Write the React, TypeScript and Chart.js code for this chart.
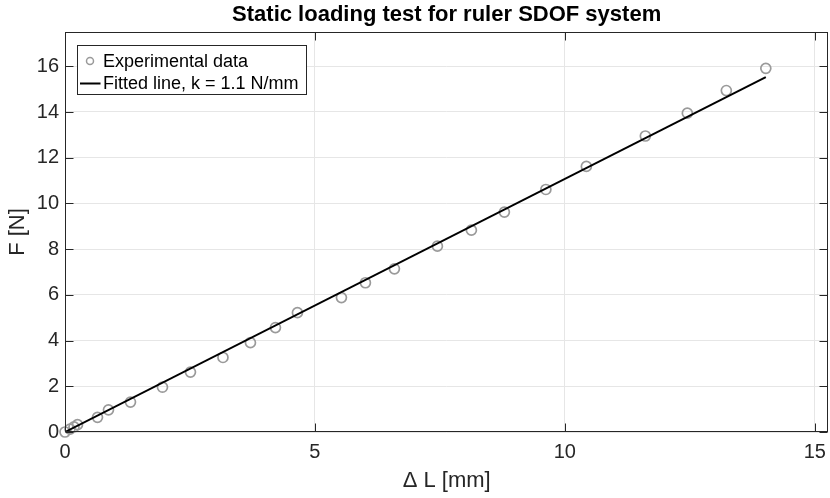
import React, { useEffect, useRef } from "react";
import { Chart, registerables } from "chart.js";

Chart.register(...registerables);

const TITLE = "Static loading test for ruler SDOF system";
const X_LABEL = "Δ L [mm]";
const Y_LABEL = "F [N]";
const DATA_LABEL = "Experimental data";
const FIT_LABEL = "Fitted line, k = 1.1 N/mm";

// Experimental data
const deltaL = [0, 0.1, 0.18, 0.25, 0.65, 0.87, 1.31, 1.95, 2.51, 3.16, 3.71, 4.21, 4.65, 5.53, 6.01, 6.59, 7.45, 8.13, 8.79, 9.62, 10.43, 11.61, 12.45, 13.23, 14.02];
const force = [0, 0.13, 0.22, 0.32, 0.64, 0.97, 1.31, 1.96, 2.62, 3.26, 3.91, 4.57, 5.22, 5.88, 6.53, 7.14, 8.13, 8.83, 9.62, 10.61, 11.62, 12.95, 13.95, 14.94, 15.91];

// Fitted line endpoints
const fitX = [0, 14.02];
const fitY = [0, 15.53];

const X_MIN = 0;
const X_MAX = 15.27;
const X_STEP = 5;
const Y_MIN = 0;
const Y_MAX = 17.5;
const Y_STEP = 2;

const FONT = "'Liberation Sans', Arial, Helvetica, sans-serif";
const AXIS = "#262626";
const GRID = "rgb(230,230,230)";
const MARKER = "#9a9a9a";

const framePlugin = {
  id: "matlabFrame",
  afterDraw(chart: any) {
    const { ctx, chartArea: a, scales } = chart;
    ctx.save();
    const L = Math.round(a.left) + 0.5;
    const R = Math.round(a.right) - 0.5;
    const T = Math.round(a.top) + 0.5;
    const B = Math.round(a.bottom) - 0.5;
    const tl = 8;
    ctx.strokeStyle = AXIS;
    ctx.lineWidth = 1;
    ctx.beginPath();
    scales.x.ticks.forEach((t: any) => {
      const px = Math.round(scales.x.getPixelForValue(t.value)) + 0.5;
      ctx.moveTo(px, B);
      ctx.lineTo(px, B - tl);
      ctx.moveTo(px, T);
      ctx.lineTo(px, T + tl);
    });
    scales.y.ticks.forEach((t: any) => {
      const py = Math.round(scales.y.getPixelForValue(t.value)) + 0.5;
      ctx.moveTo(L, py);
      ctx.lineTo(L + tl, py);
      ctx.moveTo(R, py);
      ctx.lineTo(R - tl, py);
    });
    ctx.stroke();
    ctx.strokeRect(L, T, R - L, B - T);

    // title
    ctx.fillStyle = "#000";
    ctx.font = `bold 22px ${FONT}`;
    ctx.textAlign = "center";
    ctx.textBaseline = "middle";
    ctx.fillText(TITLE, (a.left + a.right) / 2, 15);

    // legend
    const lx = a.left + 12.5;
    const ly = a.top + 13.5;
    const lw = 229;
    const lh = 49;
    ctx.fillStyle = "#fff";
    ctx.fillRect(lx, ly, lw, lh);
    ctx.strokeStyle = AXIS;
    ctx.lineWidth = 1;
    ctx.strokeRect(lx, ly, lw, lh);
    const r1 = ly + 15.5;
    const r2 = ly + 38;
    ctx.strokeStyle = MARKER;
    ctx.lineWidth = 1.5;
    ctx.beginPath();
    ctx.arc(lx + 12.5, r1, 3.5, 0, Math.PI * 2);
    ctx.stroke();
    ctx.strokeStyle = "#000";
    ctx.lineWidth = 2;
    ctx.beginPath();
    ctx.moveTo(lx + 2.5, r2);
    ctx.lineTo(lx + 23, r2);
    ctx.stroke();
    ctx.fillStyle = "#000";
    ctx.font = `18px ${FONT}`;
    ctx.textAlign = "left";
    ctx.textBaseline = "middle";
    ctx.fillText(DATA_LABEL, lx + 25.5, r1 + 1);
    ctx.fillText(FIT_LABEL, lx + 25.5, r2 + 1);
    ctx.restore();
  },
};

export default function App() {
  const ref = useRef<HTMLCanvasElement | null>(null);
  useEffect(() => {
    if (!ref.current) return;
    const chart = new Chart(ref.current, {
      type: "scatter",
      data: {
        datasets: [
          {
            label: FIT_LABEL,
            data: fitX.map((x, i) => ({ x, y: fitY[i] })),
            showLine: true,
            borderColor: "#000",
            borderWidth: 2,
            pointRadius: 0,
            order: 0,
          },
          {
            label: DATA_LABEL,
            data: deltaL.map((x, i) => ({ x, y: force[i] })),
            showLine: false,
            pointStyle: "circle",
            pointRadius: 5,
            pointBorderWidth: 1.7,
            borderColor: MARKER,
            backgroundColor: "rgba(0,0,0,0)",
            pointBackgroundColor: "rgba(0,0,0,0)",
            clip: false,
            order: 1,
          } as any,
        ],
      },
      options: {
        animation: false,
        responsive: false,
        devicePixelRatio: 1,
        layout: { padding: { top: 32, right: 0, left: 0, bottom: 0 } },
        plugins: {
          legend: { display: false },
          tooltip: { enabled: false },
          title: { display: false },
        },
        scales: {
          x: {
            type: "linear",
            min: X_MIN,
            max: X_MAX,
            afterFit: (s: any) => {
              s.height = 66;
            },
            ticks: {
              stepSize: X_STEP,
              includeBounds: false,
              color: AXIS,
              font: { family: FONT, size: 20 },
              padding: 8,
              maxRotation: 0,
            },
            grid: { color: GRID, drawTicks: false, lineWidth: 1 },
            border: { display: false },
            title: {
              display: true,
              text: X_LABEL,
              color: AXIS,
              font: { family: FONT, size: 22 },
              padding: { top: 0, bottom: 4 },
            },
          },
          y: {
            type: "linear",
            min: Y_MIN,
            max: Y_MAX,
            afterFit: (s: any) => {
              s.width = 65;
            },
            ticks: {
              stepSize: Y_STEP,
              includeBounds: false,
              color: AXIS,
              font: { family: FONT, size: 20 },
              padding: 6,
            },
            grid: { color: GRID, drawTicks: false, lineWidth: 1 },
            border: { display: false },
            title: {
              display: true,
              text: Y_LABEL,
              color: AXIS,
              font: { family: FONT, size: 22 },
              padding: { top: 5, bottom: 0 },
            },
          },
        },
      } as any,
      plugins: [framePlugin],
    });
    return () => chart.destroy();
  }, []);
  return (
    <div style={{ position: "absolute", left: 0, top: 0, width: 830, height: 498, overflow: "hidden", background: "#fff" }}>
      <canvas ref={ref} width={835} height={498} style={{ display: "block" }} />
    </div>
  );
}
